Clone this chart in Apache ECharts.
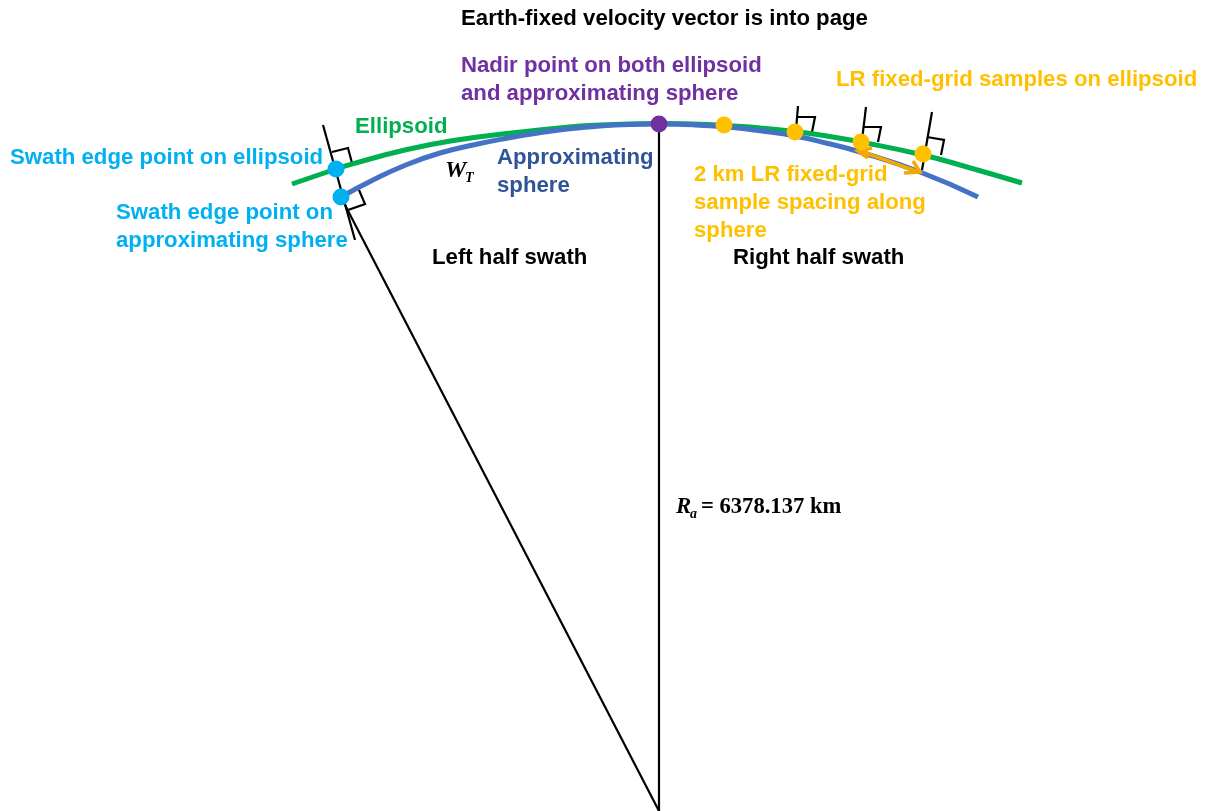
<!DOCTYPE html>
<html><head><meta charset="utf-8">
<style>html,body{margin:0;padding:0;background:#fff}#c{width:1206px;height:811px}</style>
<script src="https://cdn.jsdelivr.net/npm/echarts@6/dist/echarts.min.js"></script>
</head><body><div id="c"></div>
<script>
const ellipsoid = [[292,184],[336,169],[350,164.6],[407,149.5],[457,140],[507,133.5],[567,127.2],[600,125],[659,123.5],[725,125.4],[760,128],[795,131.6],[827,136],[861,142],[923,155],[967,167],[1022,183]];
const sphere = [[341,197],[373,180],[407,164.5],[440,153],[473,145],[508,138],[533,133.7],[567,129],[600,126],[633,124.4],[659,124],[693,124.8],[733,127.5],[760,130.8],[795,136],[827,143.2],[860,152],[920,172],[978,197]];
const nadirLine = [[659,124],[659,811]];
const edgeLine = [[345,205],[659,811]];
const edgeNormal = [[323,125],[355,240]];
const rightNormals = [[[798,106],[796,130]],[[866,107],[862,140]],[[932,112],[922,170]]];
const rightAngles = [
  [[332,152],[348,148],[352,163]],
  [[348,210],[365,204],[359,190]],
  [[797,117],[815,117],[812,132]],
  [[863,127],[881,127],[878,142]],
  [[927,137],[944,140],[941,155]]
];
const arrowShaft = [[860,151],[919,172]];
const arrowHeads = [[[872,148],[858,151],[868,158]],[[913,161],[920,172],[904,173]]];
const nadirPoint = [[659,124]];
const swathPoints = [[336,169],[341,197]];
const gridPoints = [[724,125],[795,132],[861,142],[923,154]];
const texts = [
  {p:[461,19], t:'Earth-fixed velocity vector is into page', c:'#000000'},
  {p:[461,80], t:'Nadir point on both ellipsoid\nand approximating sphere', c:'#7030A0'},
  {p:[836,80], t:'LR fixed-grid samples on ellipsoid', c:'#FFC000'},
  {p:[355,127], t:'Ellipsoid', c:'#00B050'},
  {p:[10,158], t:'Swath edge point on ellipsoid', c:'#00B0F0'},
  {p:[116,227], t:'Swath edge point on\napproximating sphere', c:'#00B0F0'},
  {p:[497,172], t:'Approximating\nsphere', c:'#2F5597'},
  {p:[694,203], t:'2 km LR fixed-grid\nsample spacing along\nsphere', c:'#FFC000'},
  {p:[432,258], t:'Left half swath', c:'#000000'},
  {p:[733,258], t:'Right half swath', c:'#000000'}
];
const serifTexts = [
  {p:[445,171], t:'W', s:24, i:'italic'},
  {p:[465,178], t:'T', s:14, i:'italic'},
  {p:[676,507], t:'R', s:22.8, i:'italic'},
  {p:[690,514], t:'a', s:14, i:'italic'},
  {p:[701,507], t:'= 6378.137 km', s:22.6, i:'normal'}
];
const poly = (data, color, width, z, smooth) => ({type:'line', data, symbol:'none', smooth:smooth||false, silent:true, z,
  lineStyle:{color, width, cap:'butt', join:'miter', opacity:1}, animation:false});
const dots = (data, color) => ({type:'scatter', data, symbol:'circle', symbolSize:17, itemStyle:{color, opacity:1}, z:10, animation:false});
const series = [
  poly(nadirLine,'#000',2.2,1), poly(edgeLine,'#000',2.2,1), poly(edgeNormal,'#000',2.2,1),
  ...rightNormals.map(d=>poly(d,'#000',2.2,1)),
  ...rightAngles.map(d=>poly(d,'#000',2.2,1)),
  poly(ellipsoid,'#00B050',5,3,0.5),
  poly(sphere,'#4472C4',5,4,0.5),
  poly(arrowShaft,'#F5A800',3.5,8),
  ...arrowHeads.map(d=>poly(d,'#F5A800',3.5,8)),
  dots(nadirPoint,'#7030A0'), dots(swathPoints,'#00B0F0'), dots(gridPoints,'#FFC000'),
  {type:'scatter', symbolSize:0, z:20, animation:false, silent:true, itemStyle:{opacity:1},
   data:texts.map(o=>({value:o.p, label:{show:true, position:'right', distance:0, formatter:o.t, color:o.c, opacity:1,
     fontFamily:'"Liberation Sans"', fontWeight:'bold', fontSize:22.2, lineHeight:28, align:'left'}}))},
  {type:'scatter', symbolSize:0, z:20, animation:false, silent:true, itemStyle:{opacity:1},
   data:serifTexts.map(o=>({value:o.p, label:{show:true, position:'right', distance:0, formatter:o.t, color:'#000', opacity:1,
     fontFamily:'"Liberation Serif"', fontWeight:'bold', fontStyle:o.i, fontSize:o.s}}))}
];
const chart = echarts.init(document.getElementById('c'), null, {renderer:'canvas'});
chart.setOption({
  animation:false, backgroundColor:'#fff',
  grid:{left:0,right:0,top:0,bottom:0},
  xAxis:{type:'value',min:0,max:1206,show:false},
  yAxis:{type:'value',min:0,max:811,inverse:true,show:false},
  series
});
</script></body></html>
